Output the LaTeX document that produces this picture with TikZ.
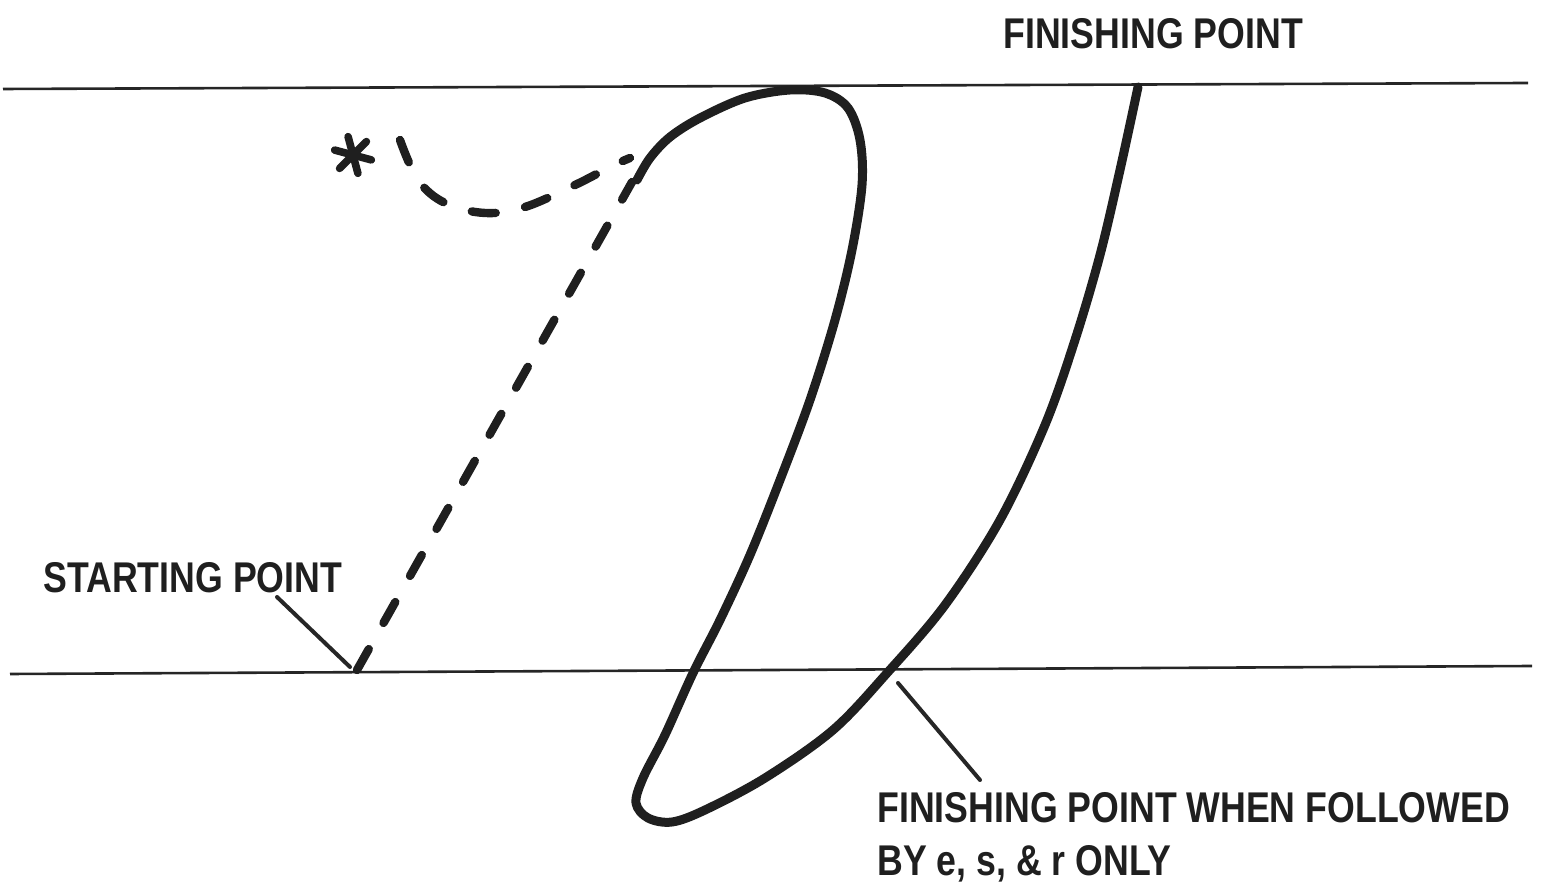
\documentclass[tikz,border=0pt]{standalone}
\usepackage{fontspec}
\usetikzlibrary{calc}
\newfontfamily\lab{Liberation Sans}[FakeStretch=0.83]
\begin{document}
\begin{tikzpicture}[x=0.5pt,y=-0.5pt,
  rule/.style={line width=1.3pt,black!85},
  stroke/.style={line width=4.5pt,black!88,line cap=round,line join=round},
  dashstroke/.style={line width=4.2pt,black!88,line cap=round,dash pattern=on 12pt off 15pt},
  leader/.style={line width=2pt,black!85,line cap=round},
  label/.style={font=\lab\bfseries\fontsize{21.5}{26}\selectfont,inner sep=0pt,anchor=base west,black!88}]
\useasboundingbox (0,0) rectangle (1543,886);
% guide lines
\coordinate (tl) at (3,89);
\coordinate (tr) at (1528,83);
\coordinate (bl) at (10,674);
\coordinate (br) at (1532,666);
\draw[rule] (tl) -- (tr);
\draw[rule] (bl) -- (br);
% labels
\node[label] (fin) at (1003,49) {FINISHING POINT};
\node[label] (start) at (43,593) {STARTING POINT};
\node[label] (fin2a) at (877,823) {FINISHING POINT WHEN FOLLOWED};
\node[label] (fin2b) at (877,876) {BY e, s, \& r ONLY};
% key points
\coordinate (sp) at (357,670);
\coordinate (join) at (632,182);
\coordinate (lst1) at (277,597);
\coordinate (lst2) at (350,667);
\coordinate (lfn1) at (898,683);
\coordinate (lfn2) at (980,780);
% leaders
\draw[leader] (lst1) -- (lst2);
\draw[leader] (lfn1) -- (lfn2);
% dashed lead-in stroke
\draw[dashstroke] (sp) -- (join);
\draw[dashstroke] plot[smooth,tension=0.6] coordinates {(400,140) (418,180) (445,203) (485,213) (525,207) (575,185) (612,166) (630,158)};
% asterisk
\coordinate (ast) at (353,155);
\foreach \a in {15,75,135} {
  \draw[line width=3.8pt,black!88,line cap=round] ($(ast)+(\a:19)$) -- ($(ast)+(\a+180:19)$);
}
% main solid stroke
\draw[stroke] plot[smooth,tension=0.55] coordinates {
 (637,180) (650,158) (670,137) (700,118) (745,98) (790,90) (825,93) (848,108)
 (860,140) (862,185) (852,250) (835,320) (810,400) (780,480) (750,555) (720,620)
 (693,673) (665,735) (643,778) (636,803) (648,818) (672,822) (705,810) (765,778)
 (833,730) (888,672) (945,605) (1000,520) (1045,425) (1075,340) (1100,255)
 (1120,170) (1138,87)};
\end{tikzpicture}
\end{document}
